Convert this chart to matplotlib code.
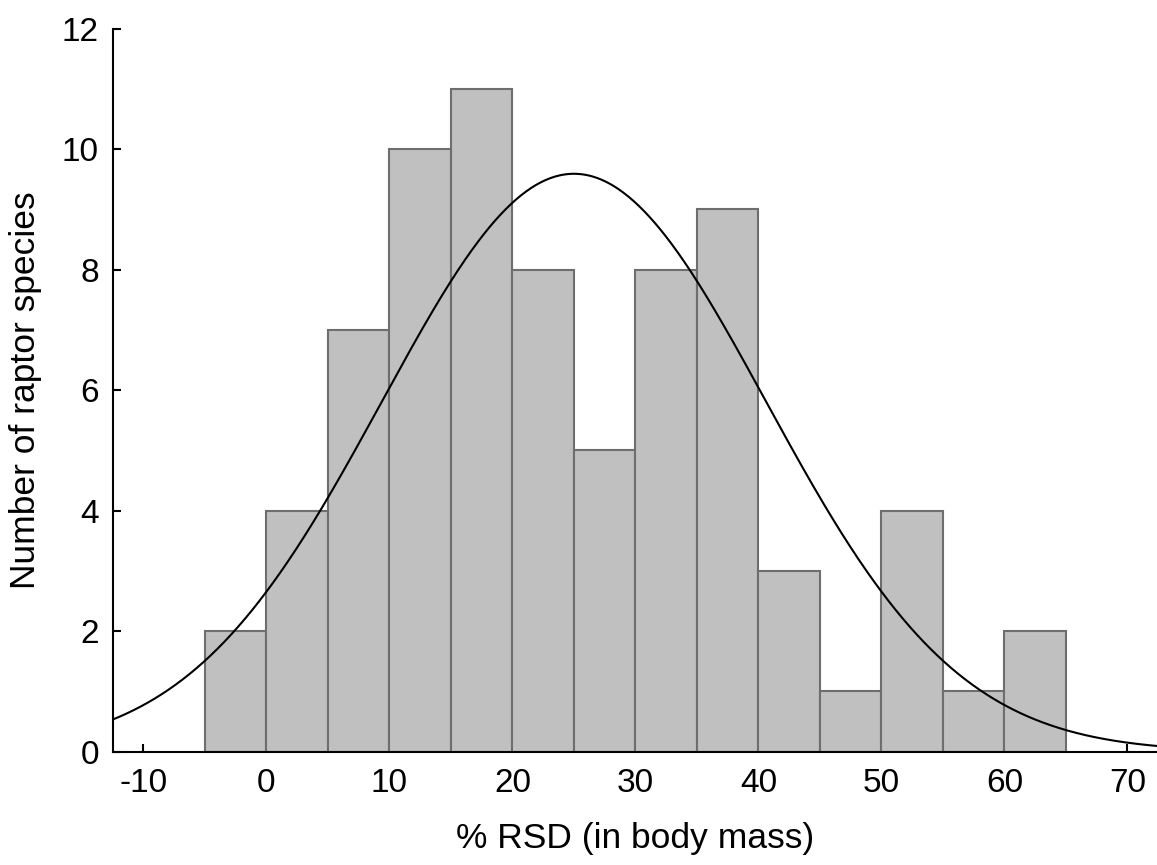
import numpy as np
import matplotlib
matplotlib.use("Agg")
import matplotlib.pyplot as plt

plt.rcParams['font.family'] = ['Liberation Sans', 'DejaVu Sans']
plt.rcParams['axes.unicode_minus'] = False

bin_edges = [-5, 0, 5, 10, 15, 20, 25, 30, 35, 40, 45, 50, 55, 60, 65]
counts = [2, 4, 7, 10, 11, 8, 5, 8, 9, 3, 1, 4, 1, 2]
curve_mean = 25.0
curve_sd = 15.6
xticks = [-10, 0, 10, 20, 30, 40, 50, 60, 70]
yticks = [0, 2, 4, 6, 8, 10, 12]

fig = plt.figure(figsize=(11.57, 8.65), dpi=100)
ax = fig.add_axes([0.0974, 0.131, 0.9026, 0.836])

edges = np.array(bin_edges, dtype=float)
widths = np.diff(edges)
ax.bar(edges[:-1], counts, width=widths, align='edge', color='#c0c0c0',
       edgecolor='#6e6e6e', linewidth=1.5, zorder=2)

n = sum(counts)
bw = widths[0]
xs = np.linspace(-12.5, 72.4, 600)
ys = n * bw / (curve_sd * np.sqrt(2 * np.pi)) * np.exp(-0.5 * ((xs - curve_mean) / curve_sd) ** 2)
ax.plot(xs, ys, color='black', linewidth=1.5, zorder=3)

ax.set_xlim(-12.5, 72.4)
ax.set_ylim(0, 12)
ax.set_xticks(xticks)
ax.set_yticks(yticks)
ax.spines['top'].set_visible(False)
ax.spines['right'].set_visible(False)
for s in ['left', 'bottom']:
    ax.spines[s].set_linewidth(1.5)
ax.tick_params(direction='in', length=6, width=1.5, labelsize=24)
ax.tick_params(axis='x', pad=12)
ax.tick_params(axis='y', pad=10)
ax.set_xlabel('% RSD (in body mass)', fontsize=25.5, labelpad=16)
ax.set_ylabel('Number of raptor species', fontsize=25.5, labelpad=14)

fig.savefig('out.png', dpi=100)
